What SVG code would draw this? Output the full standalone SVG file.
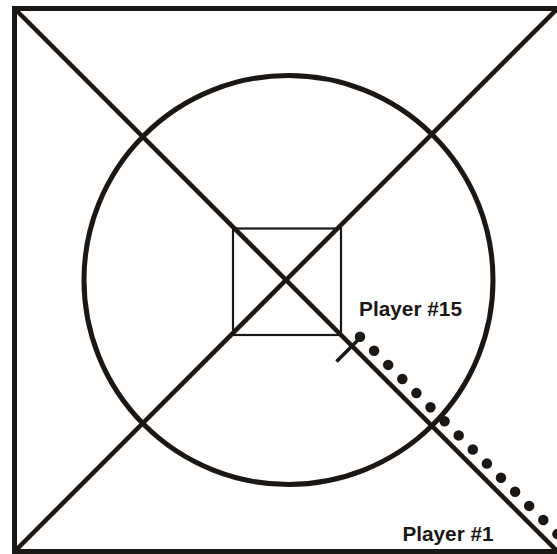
<svg xmlns="http://www.w3.org/2000/svg" width="557" height="554" viewBox="0 0 557 554">
<style>
.ln{fill:none;stroke:#1a1715;stroke-linecap:butt}
.dots{fill:none;stroke:#1a1715;stroke-width:10.5;stroke-linecap:round;stroke-dasharray:0 19.94}
.lbl{font-family:"Liberation Sans",Arial,sans-serif;font-weight:bold;font-size:20px;fill:#1a1715}
</style>
<rect width="557" height="554" fill="#fff"/>
<g id="field">
<polyline class="ln" points="560,8.5 14.5,8.5 14.5,551.5 560,551.5" stroke-width="5"/>
<circle class="ln" cx="288.5" cy="280" r="204.5" stroke-width="5"/>
<rect class="ln" x="233" y="228.5" width="108" height="106.5" stroke-width="2.2"/>
</g>
<g id="connectors">
<line class="ln" x1="16" y1="10" x2="558" y2="552" stroke-width="4.5"/>
<line class="ln" x1="556" y1="10" x2="14" y2="552" stroke-width="4.5"/>
</g>
<g id="player15">
<line class="ln" x1="336.5" y1="361.5" x2="362" y2="336" stroke-width="3.5"/>
<path class="dots" d="M360,336.7 L570,546.7"/>
<text class="lbl" x="359" y="315.5" textLength="103" lengthAdjust="spacingAndGlyphs">Player #15</text>
</g>
<g id="player1">
<text class="lbl" x="402.5" y="540.5" textLength="91" lengthAdjust="spacingAndGlyphs">Player #1</text>
</g>
</svg>
